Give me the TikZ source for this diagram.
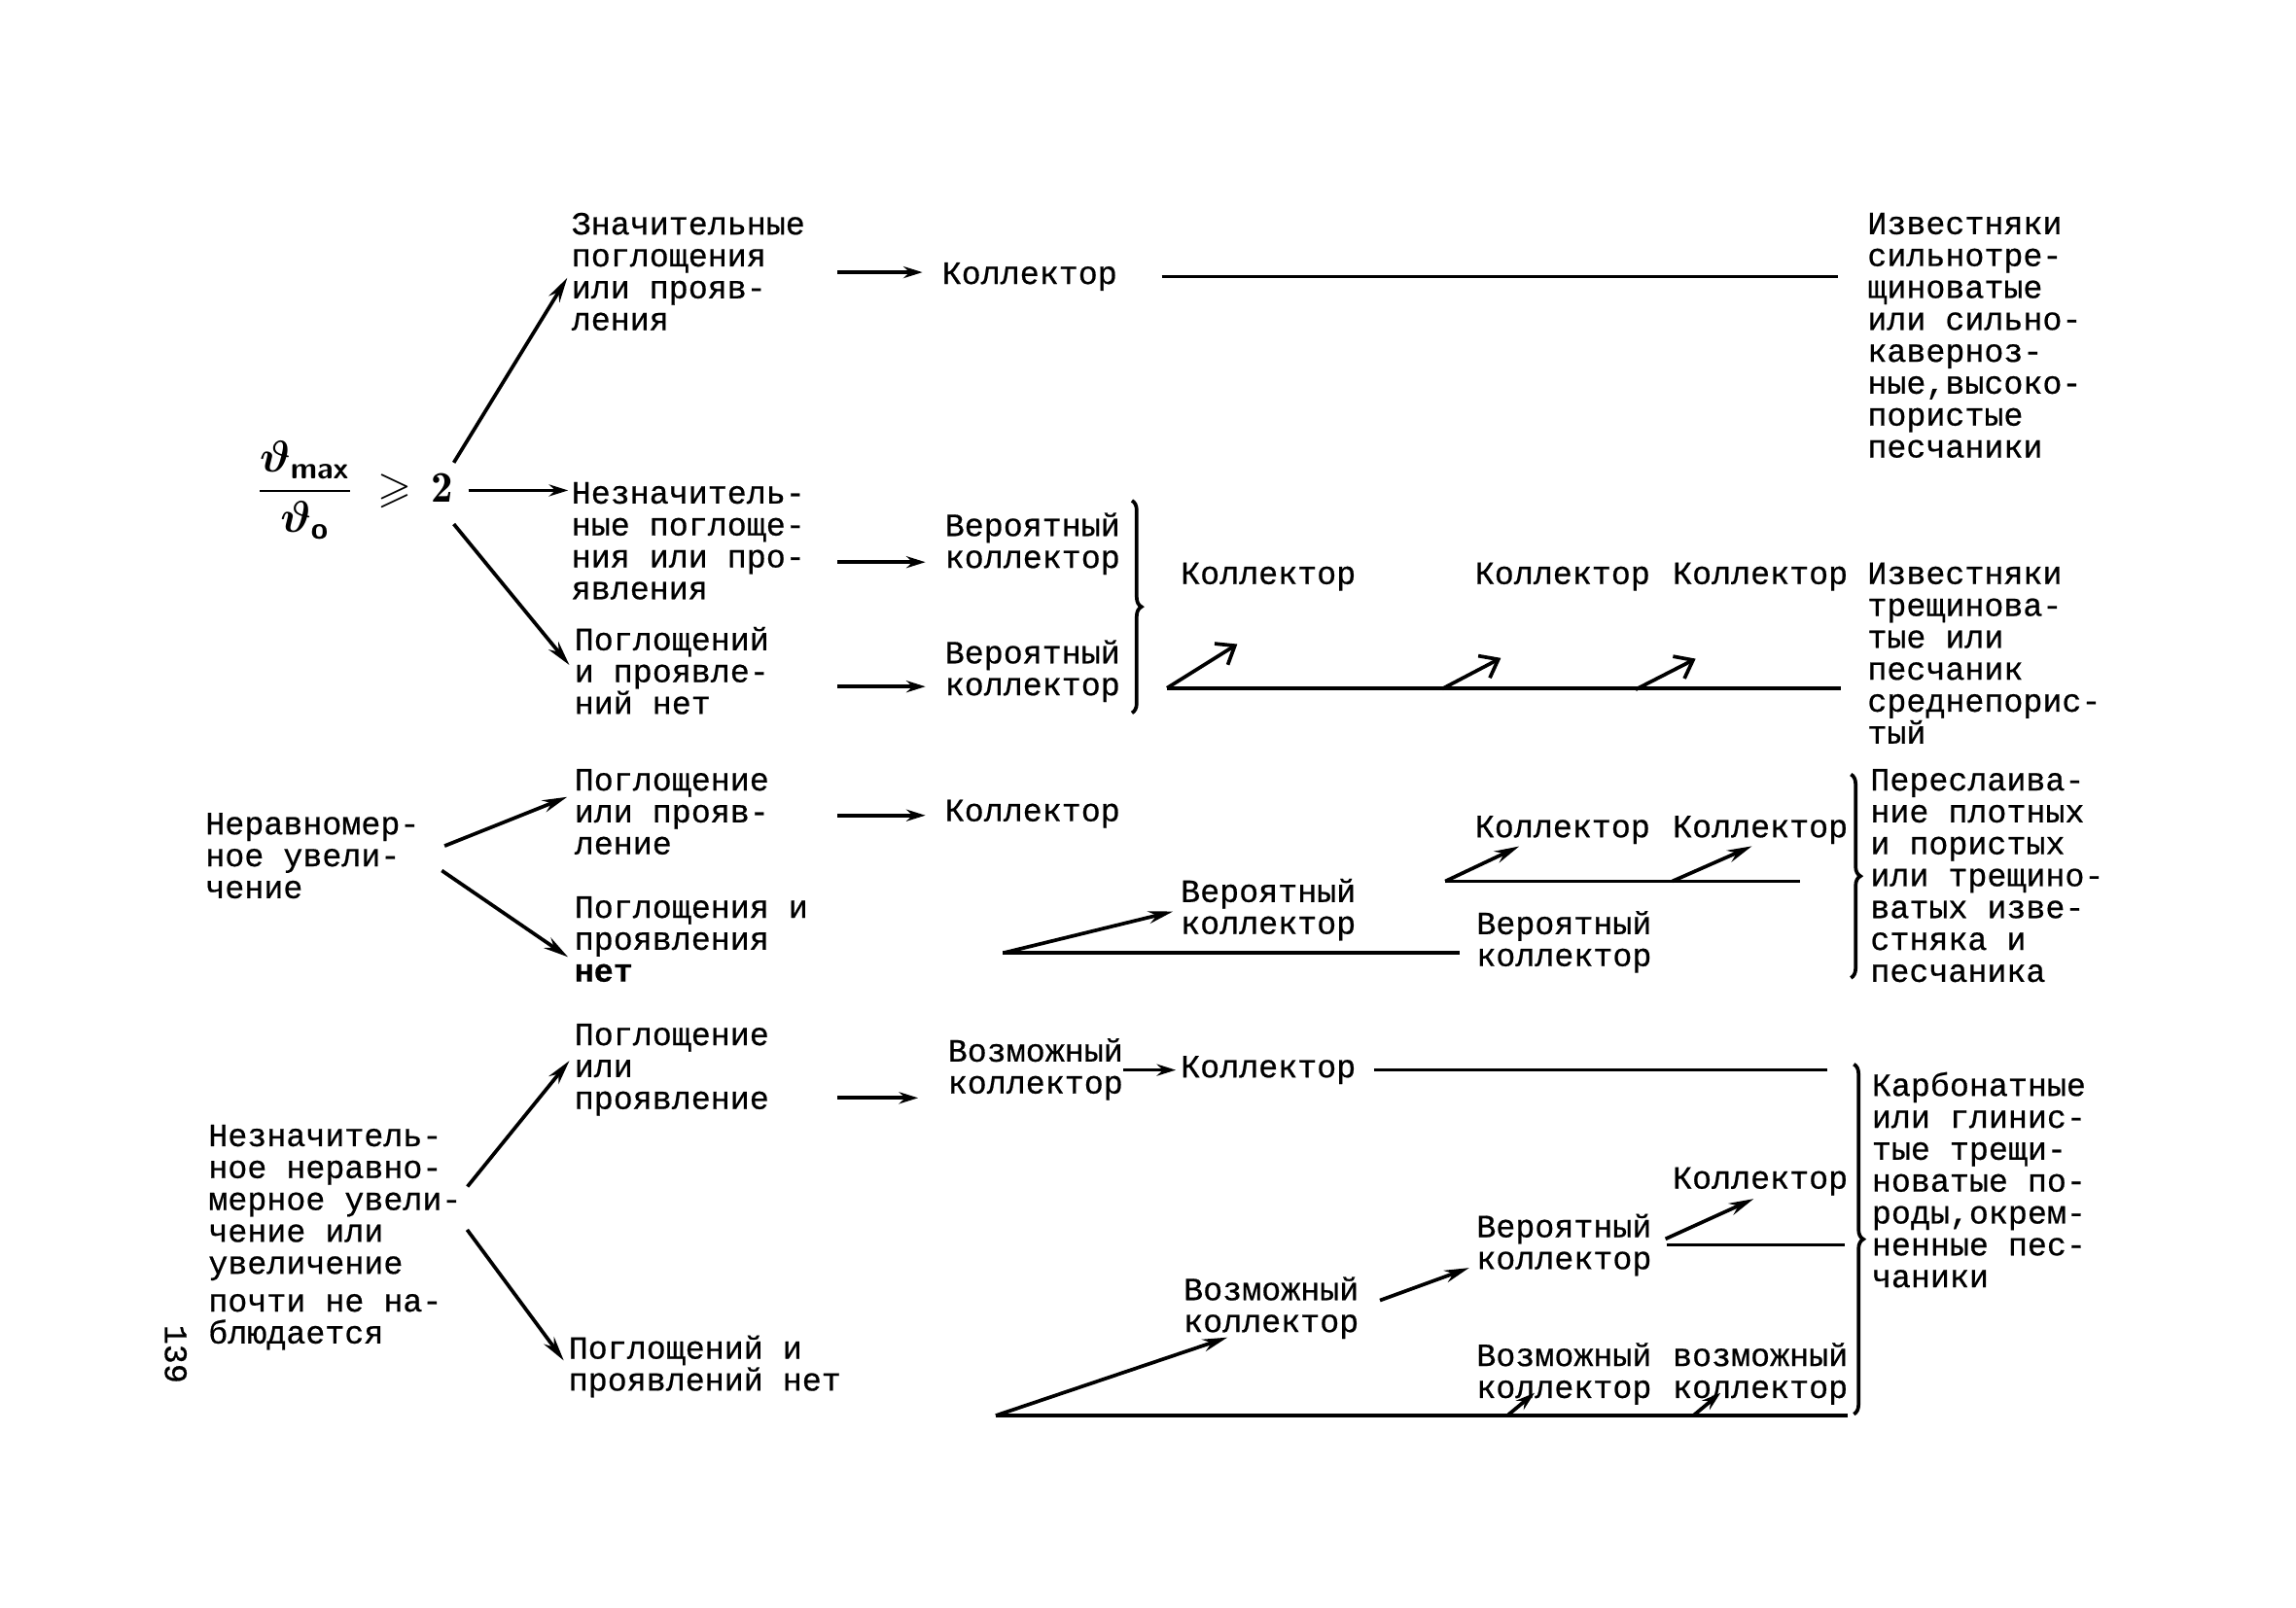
\documentclass[tikz,border=0pt]{standalone}
\usepackage{amsmath}
\usepackage{amssymb}
\usepackage{fontspec}
\newfontfamily\typewriter[FakeBold=0.6]{Liberation Mono}
\newcommand\tw{\typewriter\fontsize{12.6}{12.4}\selectfont\lineskiplimit=-20pt\relax}
\usetikzlibrary{arrows.meta,decorations.pathreplacing}

\begin{document}
\begin{tikzpicture}[
		% Typewritten text blocks
		txt/.style={font=\tw, align=left, inner sep=0pt, anchor=north west},
		% Connectors
		ln/.style={line width=1.4pt},
		arr/.style={ln, shorten >=0.1cm, -{Stealth[length=0.34cm, width=0.17cm]}},
		feed/.style={ln, -{Stealth[length=0.26cm, width=0.16cm]}},
		barb/.style={ln, -{Straight Barb[length=0.22cm, width=0.34cm]}},
		curly/.style={ln, decorate, decoration={brace, amplitude=0.13cm}}
		]
		\useasboundingbox (0,0) rectangle (31.36,-21.96);
		
		% =========================================================================
		% LEFT COLUMN: criteria
		% =========================================================================
		\node[anchor=west, inner sep=0pt, font=\fontsize{17}{20}\selectfont] (ratio) at (3.50,-6.70)
		{$\dfrac{\boldsymbol{\vartheta}_{\textbf{\textsf{max}}}}{\boldsymbol{\vartheta}_{\textbf{\textsf{o}}}}\;\boldsymbol{\geqslant}\, \mathbf{2}$};
		\node[txt] (uneven) at (2.80,-11.10) {Неравномер-\\ное увели-\\чение};
		\node[txt] (slight) at (2.84,-15.36) {Незначитель-\\ное неравно-\\мерное увели-\\чение или\\увеличение\\[0.08cm]почти не на-\\блюдается};
		\node[txt, anchor=center, rotate=-90] (page) at (2.40,-18.50) {139};
		
		% =========================================================================
		% SECOND COLUMN: absorptions
		% =========================================================================
		\node[txt] (sig) at (7.80,-2.90) {Значительные\\поглощения\\или прояв-\\ления};
		\node[txt] (weak) at (7.80,-6.58) {Незначитель-\\ные поглоще-\\ния или про-\\явления};
		\node[txt] (none1) at (7.84,-8.56) {Поглощений\\и проявле-\\ний нет};
		\node[txt] (abs2) at (7.84,-10.50) {Поглощение\\или прояв-\\ление};
		\node[txt] (none2) at (7.84,-12.24) {Поглощения и\\проявления\\\textbf{нет}};
		\node[txt] (abs3) at (7.84,-13.98) {Поглощение\\или\\проявление};
		\node[txt] (none3) at (7.76,-18.24) {Поглощений и\\проявлений нет};
		
		% =========================================================================
		% COLLECTOR COLUMNS
		% =========================================================================
		\node[txt] (kol1) at (12.86,-3.58) {Коллектор};
		\node[txt] (ver1) at (12.90,-7.00) {Вероятный\\коллектор};
		\node[txt] (ver2) at (12.90,-8.74) {Вероятный\\коллектор};
		\node[txt] (kol2) at (12.90,-10.92) {Коллектор};
		\node[txt] (pos1) at (12.94,-14.18) {Возможный\\коллектор};
		
		\node[txt] (kolA) at (16.12,-7.68) {Коллектор};
		\node[txt] (verA) at (16.12,-12.00) {Вероятный\\коллектор};
		\node[txt] (kolB) at (16.12,-14.42) {Коллектор};
		\node[txt] (posA) at (16.16,-17.44) {Возможный\\коллектор};
		
		\node[txt] (kolC) at (20.14,-7.68) {Коллектор};
		\node[txt] (kolD) at (20.14,-11.14) {Коллектор};
		\node[txt] (verB) at (20.16,-12.44) {Вероятный\\коллектор};
		\node[txt] (verC) at (20.16,-16.58) {Вероятный\\коллектор};
		\node[txt] (posB) at (20.16,-18.34) {Возможный\\коллектор};
		
		\node[txt] (kolE) at (22.84,-7.68) {Коллектор};
		\node[txt] (kolF) at (22.84,-11.14) {Коллектор};
		\node[txt] (kolG) at (22.84,-15.94) {Коллектор};
		\node[txt] (posC) at (22.84,-18.34) {возможный\\коллектор};
		
		% =========================================================================
		% RIGHT COLUMN: rocks
		% =========================================================================
		\node[txt] (lime1) at (25.50,-2.90) {Известняки\\сильнотре-\\щиноватые\\или сильно-\\каверноз-\\ные,высоко-\\пористые\\песчаники};
		\node[txt] (lime2) at (25.50,-7.68) {Известняки\\трещинова-\\тые или\\песчаник\\среднепорис-\\тый};
		\node[txt] (inter) at (25.54,-10.50) {Переслаива-\\ние плотных\\и пористых\\или трещино-\\ватых изве-\\стняка и\\песчаника};
		\node[txt] (carb) at (25.56,-14.64) {Карбонатные\\или глинис-\\тые трещи-\\новатые по-\\роды,окрем-\\ненные пес-\\чаники};
		
		% =========================================================================
		% TOP BRANCH
		% =========================================================================
		\draw[arr] ([yshift=-0.3cm]ratio.north east) -- (sig.west);
		\draw[feed, shorten <=0.2cm, shorten >=0.04cm] (ratio.east) -- (ratio.east -| weak.west);
		\draw[arr] ([yshift=0.22cm]ratio.south east) -- (none1.west);
		
		\coordinate (f1) at (11.44,-3.72);
		\coordinate (f2) at (11.44,-7.68);
		\coordinate (f3) at (11.44,-9.38);
		\draw[feed, shorten >=0.26cm] (f1) -- (f1 -| kol1.west);
		\draw[feed, shorten >=0.26cm] (f2) -- (f2 -| ver1.west);
		\draw[feed, shorten >=0.26cm] (f3) -- (f3 -| ver2.west);
		\draw[ln, shorten <=0.6cm, shorten >=0.4cm] (kol1.east) -- (kol1.east -| lime1.west);
		\draw[curly] (15.46,-6.84) -- (15.46,-9.74);
		
		\coordinate (v1) at (15.94,-9.40);
		\coordinate (u2) at (19.70,-9.41);
		\coordinate (u3) at (22.34,-9.42);
		\draw[ln, shorten >=0.36cm] (v1) -- (v1 -| lime2.west);
		\draw[barb] (v1) -- ++(0.96,0.60);
		\draw[barb] (u2) -- ++(0.80,0.42);
		\draw[barb] (u3) -- ++(0.82,0.42);
		
		% =========================================================================
		% MIDDLE BRANCH
		% =========================================================================
		\draw[arr, shorten <=0.36cm] (uneven.east) -- ([yshift=0.24cm]abs2.west);
		\draw[arr, shorten <=0.36cm] (uneven.east) -- ([yshift=-0.3cm]none2.west);
		
		\coordinate (f4) at (11.44,-11.14);
		\draw[feed, shorten >=0.26cm] (f4) -- (f4 -| kol2.west);
		
		\coordinate (v2) at (13.70,-13.02);
		\draw[arr] (v2) -- (verA.west);
		\draw[ln, shorten >=0.22cm] (v2) -- (v2 -| verB.west);
		
		\coordinate (v3) at (19.74,-12.04);
		\draw[ln, shorten >=0.96cm] (v3) -- (v3 -| inter.west);
		\draw[arr] (v3) -- ++(1.10,0.52);
		\draw[arr] (v3 -| kolF.west) -- ++(1.18,0.52);
		\draw[curly] (25.28,-10.58) -- (25.28,-13.36);
		
		% =========================================================================
		% BOTTOM BRANCH
		% =========================================================================
		\draw[arr, shorten <=0.12cm] ([yshift=0.6cm]slight.east) -- ([yshift=0.2cm]abs3.west);
		\draw[arr, shorten <=0.12cm] ([yshift=0.2cm]slight.east) -- (none3.west);
		
		\coordinate (f5) at (11.44,-15.00);
		\draw[feed, shorten >=0.4cm] (f5) -- (f5 -| pos1.west);
		\draw[feed, shorten >=0.06cm] (pos1.east |- kolB.west) -- (kolB.west);
		\draw[ln, shorten <=0.24cm, shorten >=0.6cm] (kolB.east) -- (kolB.east -| carb.west);
		
		\coordinate (v4) at (13.60,-19.34);
		\draw[ln, shorten >=0.32cm] (v4) -- (v4 -| carb.west);
		\draw[arr] (v4) -- ++(3.26,1.10);
		\draw[arr, shorten <=0.3cm] (posA.east) -- ([yshift=0.15cm]verC.south west);
		\draw[ln, shorten <=0.2cm, shorten >=0.36cm] (verC.east) -- (verC.east -| carb.west);
		\draw[arr, shorten <=0.2cm] (verC.east) -- (kolG.south);
		
		\coordinate (s1) at (20.60,-19.33);
		\coordinate (s2) at (23.14,-19.33);
		\draw[feed] (s1) -- ++(0.36,0.30);
		\draw[feed] (s2) -- ++(0.36,0.30);
		\draw[curly] (25.32,-14.54) -- (25.32,-19.32);
		
	\end{tikzpicture}
\end{document}
